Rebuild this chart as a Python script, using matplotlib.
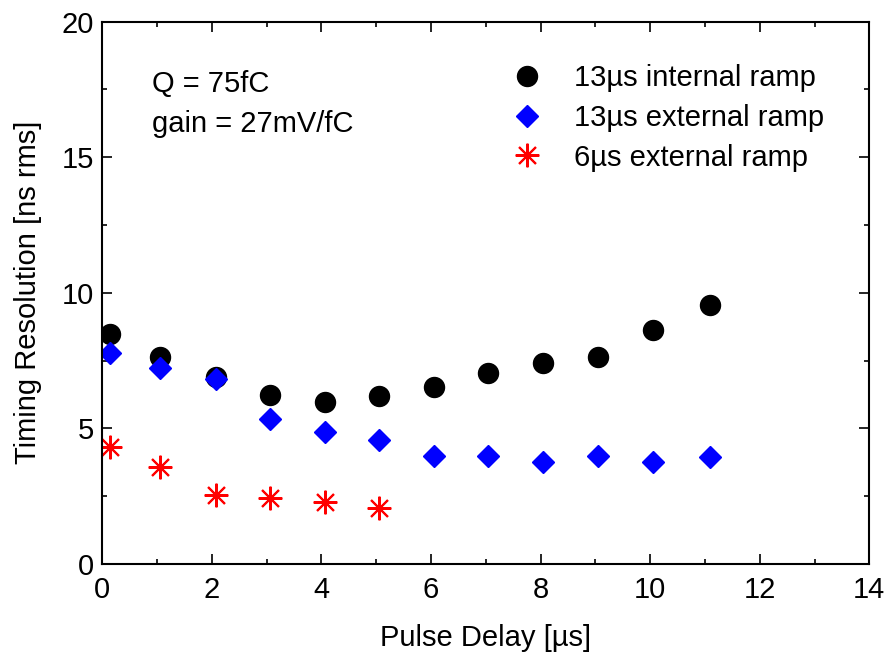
import matplotlib.pyplot as plt
from matplotlib.ticker import MultipleLocator

plt.rcParams['font.family'] = ['Liberation Sans', 'DejaVu Sans']

delay = [0.15, 1.05, 2.07, 3.07, 4.06, 5.05, 6.05, 7.04, 8.04, 9.04, 10.06, 11.1]
internal_13 = [8.49, 7.64, 6.9, 6.23, 5.98, 6.2, 6.53, 7.05, 7.42, 7.64, 8.63, 9.56]
external_13 = [7.79, 7.23, 6.82, 5.35, 4.87, 4.58, 3.98, 3.98, 3.76, 3.98, 3.76, 3.95]
delay_6 = delay[:6]
external_6 = [4.32, 3.58, 2.55, 2.44, 2.29, 2.07]

fig = plt.figure(figsize=(8.88, 6.58), dpi=100)
ax = fig.add_axes([0.115, 0.143, 0.864, 0.824])

ax.plot(delay, internal_13, linestyle="None", marker="o", ms=14.4,
        color="black", label="13µs internal ramp")
ax.plot(delay, external_13, linestyle="None", marker="D", ms=11,
        color="#0000ff", label="13µs external ramp")
ax.plot(delay_6, external_6, linestyle="None", marker=(8, 2, 0), ms=17,
        mew=1.5, color="#ff0000", label="6µs external ramp")

ax.set_xlim(0, 14)
ax.set_ylim(0, 20)
ax.xaxis.set_major_locator(MultipleLocator(2))
ax.xaxis.set_minor_locator(MultipleLocator(1))
ax.yaxis.set_major_locator(MultipleLocator(5))
ax.yaxis.set_minor_locator(MultipleLocator(2.5))
ax.tick_params(which="both", direction="in", top=True, right=True,
               width=1.2, labelsize=21)
ax.tick_params(which="major", length=7)
ax.tick_params(axis="x", which="major", pad=9)
ax.tick_params(axis="y", which="major", pad=6)
ax.tick_params(which="minor", length=3.5)
for s in ax.spines.values():
    s.set_linewidth(1.5)

ax.set_xlabel("Pulse Delay [µs]", fontsize=21, labelpad=14)
ax.set_ylabel("Timing Resolution [ns rms]", fontsize=21, labelpad=14)

ax.text(0.065, 0.885, "Q = 75fC", transform=ax.transAxes, fontsize=21, va="center")
ax.text(0.065, 0.811, "gain = 27mV/fC", transform=ax.transAxes, fontsize=21, va="center")

ax.legend(loc="upper left", bbox_to_anchor=(0.482, 0.97), frameon=False,
          fontsize=21, handletextpad=0.6, labelspacing=0.4, numpoints=1)

fig.savefig("out.png", dpi=100)
